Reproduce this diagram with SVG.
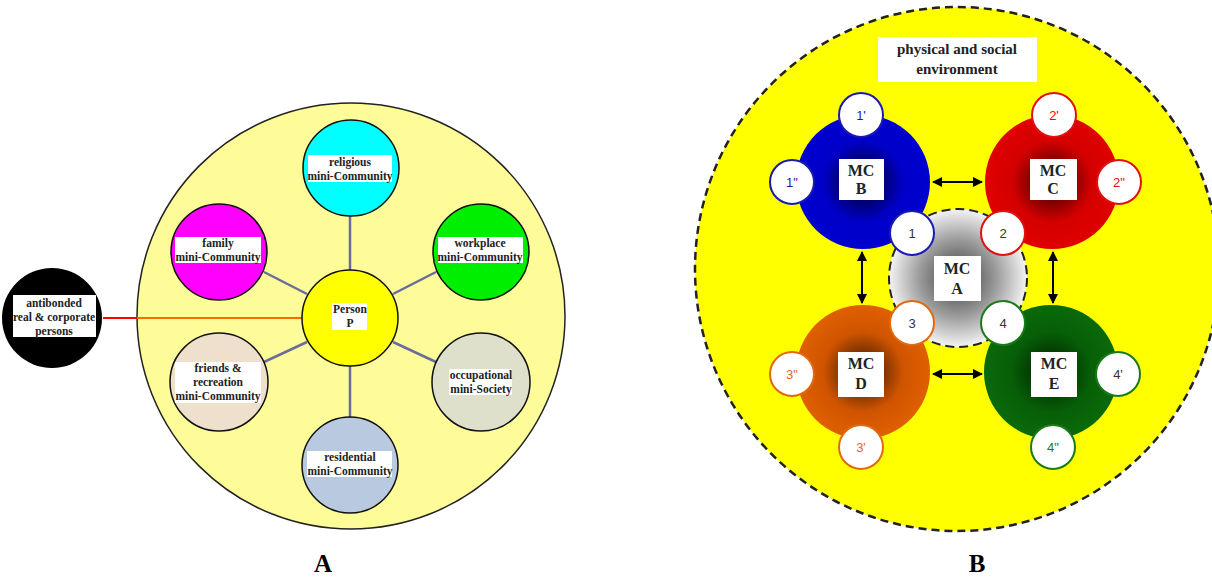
<svg xmlns="http://www.w3.org/2000/svg" width="1212" height="578" viewBox="0 0 1212 578">
<style>
.lbl{font-family:"Liberation Serif","Times New Roman",serif;font-weight:bold;font-size:11.5px;fill:#222;text-anchor:middle}
.mc{font-family:"Liberation Serif","Times New Roman",serif;font-weight:bold;font-size:16px;fill:#222;text-anchor:middle}
.box{fill:#fff}
.sat{stroke:#111;stroke-width:1.5}
.spoke{stroke:#6a6c9c;stroke-width:2.5}
.num{font-family:"Liberation Sans",Arial,sans-serif;font-size:13px;text-anchor:middle}
.nc{fill:#fff;stroke-width:2}
.arr{stroke:#000;stroke-width:2;marker-start:url(#ah);marker-end:url(#ah)}
.cap{font-family:"Liberation Serif","Times New Roman",serif;font-weight:bold;font-size:25px;fill:#000;text-anchor:middle}
</style>
<defs>
<marker id="ah" viewBox="0 0 10 10" refX="9" refY="5" markerWidth="5" markerHeight="5" orient="auto-start-reverse" markerUnits="strokeWidth">
<path d="M0,0 L10,5 L0,10 Z" fill="#000"/>
</marker>
<radialGradient id="gA"><stop offset="0" stop-color="#3a3a3a"/><stop offset="0.55" stop-color="#9a9a9a"/><stop offset="1" stop-color="#f4f4f4"/></radialGradient>
<radialGradient id="gB"><stop offset="0" stop-color="#00001e"/><stop offset="0.6" stop-color="#0000c8"/><stop offset="1" stop-color="#0000d0"/></radialGradient>
<radialGradient id="gC"><stop offset="0" stop-color="#2a0000"/><stop offset="0.6" stop-color="#d40000"/><stop offset="1" stop-color="#e00000"/></radialGradient>
<radialGradient id="gD"><stop offset="0" stop-color="#2a1000"/><stop offset="0.6" stop-color="#d05400"/><stop offset="1" stop-color="#e06000"/></radialGradient>
<radialGradient id="gE"><stop offset="0" stop-color="#001a00"/><stop offset="0.6" stop-color="#075f07"/><stop offset="1" stop-color="#0a6a0a"/></radialGradient>
</defs>

<!-- Panel A -->
<g id="panelA-env"><ellipse cx="351" cy="316" rx="214" ry="213" fill="#fdfc99" stroke="#222" stroke-width="1.5"/></g>
<g id="connectorsA">
<line x1="103" y1="318" x2="137" y2="318" stroke="#ff0000" stroke-width="2"/>
<line x1="137" y1="318" x2="302" y2="318" stroke="#ff6a00" stroke-width="2"/>
<line class="spoke" x1="350" y1="270" x2="350" y2="216"/>
<line class="spoke" x1="350" y1="366" x2="350" y2="417"/>
<line class="spoke" x1="307" y1="294" x2="264" y2="272"/>
<line class="spoke" x1="393" y1="294" x2="436" y2="272"/>
<line class="spoke" x1="307" y1="342" x2="264" y2="362"/>
<line class="spoke" x1="393" y1="342" x2="436" y2="362"/>
</g>
<g id="antibonded">
<circle cx="52" cy="318" r="50" fill="#000"/>
<rect class="box" x="13" y="295" width="83" height="42"/>
<text class="lbl"><tspan x="54" y="307">antibonded</tspan><tspan x="54" y="321">real &amp; corporate</tspan><tspan x="54" y="335">persons</tspan></text>
</g>
<g id="person">
<circle class="sat" cx="350" cy="318" r="48" fill="#ffff00"/>
<rect class="box" x="332" y="303" width="35" height="27"/>
<text class="lbl"><tspan x="350" y="313">Person</tspan><tspan x="350" y="327">P</tspan></text>
</g>
<g id="religious">
<circle class="sat" cx="351" cy="168" r="48" fill="#00ffff"/>
<rect class="box" x="308" y="155" width="84" height="27"/>
<text class="lbl"><tspan x="350" y="166">religious</tspan><tspan x="350" y="180">mini-Community</tspan></text>
</g>
<g id="family">
<circle class="sat" cx="219" cy="252" r="48" fill="#ff00ff"/>
<rect class="box" x="175" y="237" width="86" height="26"/>
<text class="lbl"><tspan x="218" y="247">family</tspan><tspan x="218" y="261">mini-Community</tspan></text>
</g>
<g id="workplace">
<circle class="sat" cx="481" cy="252" r="48" fill="#00ee00"/>
<rect class="box" x="438" y="237" width="85" height="26"/>
<text class="lbl"><tspan x="480" y="247">workplace</tspan><tspan x="480" y="261">mini-Community</tspan></text>
</g>
<g id="friends">
<circle class="sat" cx="219" cy="382" r="49" fill="#eee0cc"/>
<rect class="box" x="175" y="362" width="86" height="41"/>
<text class="lbl"><tspan x="218" y="372">friends &amp;</tspan><tspan x="218" y="386">recreation</tspan><tspan x="218" y="400">mini-Community</tspan></text>
</g>
<g id="occupational">
<circle class="sat" cx="481" cy="382" r="49" fill="#dfe0cc"/>
<rect class="box" x="449" y="369" width="63" height="26"/>
<text class="lbl"><tspan x="481" y="379">occupational</tspan><tspan x="481" y="393">mini-Society</tspan></text>
</g>
<g id="residential">
<circle class="sat" cx="350" cy="465" r="48" fill="#b8c9e0"/>
<rect class="box" x="307" y="451" width="85" height="26"/>
<text class="lbl"><tspan x="350" y="461">residential</tspan><tspan x="350" y="475">mini-Community</tspan></text>
</g>
<text class="cap" x="323" y="572">A</text>

<!-- Panel B -->
<g id="panelB-env">
<circle cx="957" cy="269" r="262" fill="#ffff00" stroke="#222" stroke-width="2.5" stroke-dasharray="8,5"/>
<rect class="box" x="878" y="37" width="159" height="45"/>
<text class="lbl" style="font-size:15px"><tspan x="957" y="54">physical and social</tspan><tspan x="957" y="74">environment</tspan></text>
</g>
<g id="connectorsB">
<line class="arr" x1="933" y1="182" x2="982" y2="182"/>
<line class="arr" x1="933" y1="374" x2="982" y2="374"/>
<line class="arr" x1="862" y1="252" x2="862" y2="303"/>
<line class="arr" x1="1053" y1="252" x2="1053" y2="303"/>
</g>
<g id="mcA">
<circle cx="958" cy="278" r="69" fill="url(#gA)" stroke="#222" stroke-width="2" stroke-dasharray="9,5"/>
<rect class="box" x="934" y="256" width="47" height="45"/>
<text class="mc"><tspan x="957" y="274">MC</tspan><tspan x="957" y="294">A</tspan></text>
</g>
<g id="mcB">
<circle cx="863" cy="182" r="67" fill="url(#gB)"/>
<rect class="box" x="839" y="159" width="45" height="41"/>
<text class="mc"><tspan x="861" y="176">MC</tspan><tspan x="861" y="194">B</tspan></text>
<circle class="nc" cx="861" cy="115" r="22" stroke="#1a1ab0"/><text class="num" x="861" y="120" fill="#1a1ab0">1'</text>
<circle class="nc" cx="792" cy="182" r="22" stroke="#1a1ab0"/><text class="num" x="792" y="187" fill="#1a1ab0">1"</text>
<circle class="nc" cx="912" cy="233" r="22" stroke="#1a1ab0"/><text class="num" x="912" y="238" fill="#333">1</text>
</g>
<g id="mcC">
<circle cx="1052" cy="182" r="67" fill="url(#gC)"/>
<rect class="box" x="1030" y="159" width="47" height="41"/>
<text class="mc"><tspan x="1053" y="176">MC</tspan><tspan x="1053" y="194">C</tspan></text>
<circle class="nc" cx="1054" cy="115" r="22" stroke="#e01010"/><text class="num" x="1054" y="120" fill="#e01010">2'</text>
<circle class="nc" cx="1119" cy="182" r="22" stroke="#e01010"/><text class="num" x="1119" y="187" fill="#e01010">2"</text>
<circle class="nc" cx="1003" cy="233" r="22" stroke="#e01010"/><text class="num" x="1003" y="238" fill="#333">2</text>
</g>
<g id="mcD">
<circle cx="863" cy="372" r="67" fill="url(#gD)"/>
<rect class="box" x="838" y="352" width="46" height="45"/>
<text class="mc"><tspan x="861" y="369">MC</tspan><tspan x="861" y="389">D</tspan></text>
<circle class="nc" cx="792" cy="374" r="22" stroke="#e06a10"/><text class="num" x="792" y="379" fill="#e06a10">3"</text>
<circle class="nc" cx="861" cy="447" r="22" stroke="#e06a10"/><text class="num" x="861" y="452" fill="#e06a10">3'</text>
<circle class="nc" cx="912" cy="323" r="22" stroke="#e06a10"/><text class="num" x="912" y="328" fill="#333">3</text>
</g>
<g id="mcE">
<circle cx="1051" cy="372" r="67" fill="url(#gE)"/>
<rect class="box" x="1031" y="352" width="46" height="45"/>
<text class="mc"><tspan x="1054" y="369">MC</tspan><tspan x="1054" y="389">E</tspan></text>
<circle class="nc" cx="1118" cy="374" r="22" stroke="#1a7a1a"/><text class="num" x="1118" y="379" fill="#333">4'</text>
<circle class="nc" cx="1053" cy="447" r="22" stroke="#1a7a1a"/><text class="num" x="1053" y="452" fill="#1a7a1a">4"</text>
<circle class="nc" cx="1003" cy="323" r="22" stroke="#1a7a1a"/><text class="num" x="1003" y="328" fill="#333">4</text>
</g>
<text class="cap" x="977" y="572">B</text>
</svg>
